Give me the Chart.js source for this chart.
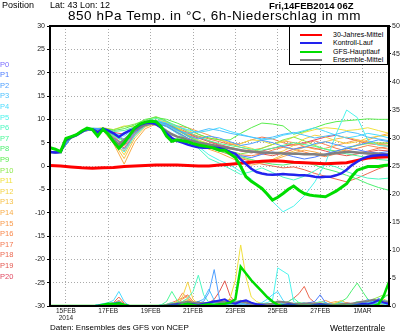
<!DOCTYPE html>
<html>
<head>
<meta charset="utf-8">
<script src="https://cdn.jsdelivr.net/npm/chart.js@4.4.1/dist/chart.umd.min.js"></script>
<style>
  html, body { margin: 0; padding: 0; background: #fff; }
  #wrap { position: relative; width: 400px; height: 333px; overflow: hidden; font-family: "Liberation Sans", Arial, sans-serif; }
  #chart { position: absolute; left: 0; top: 0; }
  .txt { position: absolute; white-space: nowrap; color: #000; line-height: 1; }
  #members .txt { font-size: 7.5px; }
  #legend { position: absolute; left: 289px; top: 26px; width: 99px; height: 39px; border: 1px solid #000; background: #fff; box-sizing: border-box; }
  #legend .row { position: absolute; left: 0; height: 8px; font-size: 7px; }
  #legend .ln { position: absolute; left: 10px; width: 22px; height: 2px; top: 3px; }
  #legend .lb { position: absolute; left: 43px; top: 0; white-space: nowrap; }
</style>
</head>
<body>
<div id="wrap">
  <canvas id="chart" width="400" height="333"></canvas>
  <div class="txt" style="left:2px;top:1px;font-size:9px;">Position</div>
  <div class="txt" style="left:50px;top:1px;font-size:9px;">Lat: 43 Lon: 12</div>
  <div class="txt" style="left:269px;top:1px;font-size:9.5px;font-weight:bold;">Fri,14FEB2014 06Z</div>
  <div class="txt" id="title" style="left:68px;top:9px;font-size:13.5px;letter-spacing:0.55px;">850 hPa Temp. in °C, 6h-Niederschlag in mm</div>
  <div class="txt" style="left:50px;top:324px;font-size:8px;">Daten: Ensembles des GFS von NCEP</div>
  <div class="txt" style="left:330px;top:324px;font-size:8.5px;">Wetterzentrale</div>
  <div id="members"></div>
  <div id="legend"></div>
</div>
<script>
// Zeitachse: Stunden ab 14FEB2014 06Z, Laeufe bis +384h
const dayTicks = [18, 66, 114, 162, 210, 258, 306, 354];
const dayLabels = [['15FEB', '2014'], '17FEB', '19FEB', '21FEB', '23FEB', '25FEB', '27FEB', '1MAR'];

// 850 hPa Temperatur, 6-stuendlich (65 Werte)
const gfsTemp = [3.9,3.6,3.1,5.9,6.3,6.7,7.5,8.1, 7.8,6.4,7.9,6.8,5.2,3.8,5.0,6.5, 8.2,9.0,9.4,9.6,9.5,8.4,6.4,5.3, 5.6,5.4,5.2,4.8,4.5,4.3,4.1,3.8, 3.4,3.4,2.6,1.8,-0.1,-2.3,-3.3,-4.0, -4.8,-6.0,-7.3,-6.7,-5.9,-5.0,-4.3,-5.2, -5.9,-6.2,-6.4,-6.5,-6.6,-6.0,-5.4,-4.6, -3.8,-2.2,-0.9,-0.5,-0.1,-0.1,-0.1,0.1, 0.2];
const ctrlTemp = [3.0,2.9,3.0,5.6,6.2,6.6,7.3,8.0, 7.9,7.2,8.0,7.6,7.0,6.2,7.0,7.6, 8.0,8.8,9.2,9.3,9.0,8.2,7.0,6.0, 5.4,5.0,4.6,4.3,4.0,3.9,3.9,3.9, 3.8,3.5,3.0,2.6,1.4,0.4,-0.6,-1.3, -1.6,-1.8,-1.9,-1.8,-1.7,-1.8,-1.9,-2.0, -2.0,-2.1,-2.3,-2.4,-2.3,-2.3,-2.0,-1.6, -0.8,0.2,0.9,1.6,2.0,2.2,2.3,2.4, 2.3];
const meanTemp = [3.0,2.9,3.0,5.5,6.1,6.6,7.3,8.0, 7.8,7.3,7.8,6.9,5.6,4.6,5.6,6.6, 7.6,8.3,8.8,9.1,8.9,8.3,7.5,6.8, 6.3,6.0,5.6,5.3,5.0,4.8,4.6,4.4, 4.2,4.0,3.8,3.6,3.4,3.2,3.1,3.0, 2.9,2.9,2.8,2.8,2.7,2.7,2.6,2.6, 2.5,2.5,2.5,2.4,2.4,2.6,2.8,2.9, 3.0,3.0,2.9,2.8,2.7,2.6,2.6,2.5, 2.5];
// 30-Jahres-Mittel, 12-stuendlich (33 Werte)
const climTemp = [0.1,0.0,-0.2,-0.4,-0.5,-0.4,-0.3,-0.1,0.0,0.1,0.2,0.2,0.2,0.1,0.0,0.0,0.2,0.4,0.6,0.8,1.0,1.1,1.0,0.8,0.7,0.6,0.5,0.6,0.7,1.2,1.7,1.9,2.0];

// Ensemble-Member P1..P20, 12-stuendlich (33 Werte)
const p1Temp  = [3.0,3.1,6.1,7.3,7.9,7.9, 6.0,4.5,7.2,8.8,9.2,8.5, 7.2,6.0,5.1,4.6,3.8,3.0, 2.2,1.8,2.5,3.0,2.6,2.0, 1.5,1.9,2.6,3.2,3.8,3.5, 3.0,2.8,3.1];
const p2Temp  = [3.0,3.0,6.3,7.4,8.0,7.8, 5.5,3.6,6.8,8.9,9.6,9.0, 7.8,6.5,5.8,6.4,6.0,5.2, 4.4,4.8,5.5,5.0,4.2,3.6, 4.0,4.8,5.2,4.6,4.0,4.4, 5.0,5.6,5.2];
const p3Temp  = [3.1,3.0,6.2,7.5,8.1,8.0, 6.8,5.8,7.6,9.0,9.4,8.8, 7.6,7.0,7.4,8.0,7.6,7.0, 6.6,6.2,5.8,6.2,6.8,7.2, 6.6,6.0,6.4,6.8,7.4,7.0, 6.2,5.8,5.4];
const p4Temp  = [3.0,3.1,6.0,7.3,7.9,7.9, 7.0,6.4,8.0,9.3,9.8,9.2, 8.4,7.8,7.2,7.6,8.2,7.4, 6.8,6.2,5.6,5.8,6.6,7.0, 7.6,8.2,7.4,6.6,6.0,6.4, 7.0,6.6,6.0];
const p5Temp  = [3.0,3.0,6.2,7.4,7.9,7.7, 5.2,3.0,6.4,8.6,9.2,8.4, 7.0,5.6,4.2,2.4,1.2,0.2, -1.2,-2.8,-5.0,-7.6,-9.8,-8.6, -6.4,-3.4,0.6,6.8,12.0,10.4, 5.5,4.4,4.2];
const p6Temp  = [3.0,3.0,6.2,7.3,7.9,7.8, 6.4,5.2,7.3,8.8,9.4,8.8, 7.4,6.0,3.8,1.6,0.6,-0.6, -1.8,-1.2,-0.4,-1.4,-2.4,-3.0, -2.2,-1.0,0.4,-0.2,-1.2,-2.0, -2.6,-2.8,-2.6];
const p7Temp  = [3.0,3.1,6.3,7.5,8.0,8.0, 7.4,7.6,8.4,9.6,10.2,9.6, 8.6,7.4,6.2,5.4,4.8,4.4, 4.0,3.6,3.4,3.8,4.4,5.0, 4.6,4.2,3.6,3.0,2.6,2.2, 1.8,1.4,1.2];
const p8Temp  = [3.0,3.0,6.1,7.4,7.9,7.9, 6.6,5.4,7.6,9.0,9.6,9.0, 7.8,6.4,5.2,4.0,3.2,2.6, 2.0,1.4,0.8,0.4,0.2,0.6, 0.8,0.2,-0.6,-1.2,-2.0,-2.8, -3.8,-4.6,-5.2];
const p9Temp  = [3.1,3.1,6.2,7.4,8.0,8.1, 7.6,8.0,8.8,10.0,10.4,10.0, 9.2,8.2,6.8,6.0,5.6,5.6, 7.0,8.2,9.2,9.0,8.6,6.8, 7.4,8.2,9.0,9.5,9.7,9.9, 10.1,10.0,10.0];
const p10Temp = [3.0,3.0,6.3,7.5,8.1,8.0, 7.8,8.4,9.0,9.8,10.6,9.6, 8.0,6.6,5.4,4.6,4.2,3.2, 2.6,3.0,3.8,4.6,5.6,6.2, 5.4,4.4,3.6,3.2,3.8,4.4, 4.8,5.0,4.8];
const p11Temp = [3.0,3.1,6.1,7.4,7.9,8.2, 7.8,8.6,8.4,9.4,9.8,9.4, 8.2,6.8,5.6,4.8,4.2,3.6, 4.8,5.6,5.4,4.6,5.2,6.2, 7.2,7.8,8.2,8.0,7.6,7.8, 8.2,7.6,7.0];
const p12Temp = [3.0,3.0,6.2,7.3,7.8,7.6, 5.8,2.4,6.6,8.8,9.6,9.2, 8.4,7.6,6.8,6.0,5.6,5.0, 4.4,3.8,3.0,2.6,3.2,4.4, 5.8,6.6,6.2,5.4,4.8,5.2, 6.0,6.4,6.6];
const p13Temp = [3.0,3.1,6.3,7.4,7.9,7.7, 5.0,1.6,6.0,8.4,9.2,8.8, 7.6,6.4,5.0,4.4,3.6,2.4, 1.8,1.2,0.8,1.4,2.4,3.2, 4.0,4.6,5.2,5.8,6.2,5.6, 5.0,4.6,4.4];
const p14Temp = [3.0,3.0,6.2,7.4,7.9,7.6, 4.8,0.4,5.2,8.0,9.0,8.6, 7.2,5.8,4.6,3.6,2.8,1.8, 0.8,0.2,0.6,1.2,2.0,2.8, 3.4,3.0,2.4,2.8,3.6,4.6, 5.6,6.4,7.0];
const p15Temp = [3.0,3.0,6.1,7.3,7.9,7.8, 6.2,3.2,6.8,8.6,9.4,9.2, 8.6,8.2,7.4,6.6,5.6,4.8, 4.0,3.4,3.8,4.6,5.4,5.0, 4.2,3.6,3.8,4.4,5.0,5.6, 5.2,4.8,5.0];
const p16Temp = [3.0,3.1,6.2,7.4,7.9,7.9, 6.6,4.2,7.0,8.8,9.4,8.6, 7.0,5.6,4.8,4.2,3.6,3.0, 2.4,2.2,2.6,3.4,4.0,3.6, 3.0,2.4,2.0,2.6,3.2,3.8, 4.4,4.0,3.6];
const p17Temp = [3.0,3.0,6.3,7.5,8.0,7.9, 6.0,4.8,7.4,9.2,9.8,9.4, 8.2,7.2,6.4,5.8,5.2,4.6, 4.8,5.6,6.2,5.8,5.0,4.4, 4.8,5.4,4.6,3.8,3.2,2.8, 3.2,3.8,4.2];
const p18Temp = [3.0,3.0,6.2,7.4,7.9,7.8, 6.4,3.8,6.8,8.6,9.4,9.0, 7.8,6.4,5.2,4.0,3.2,2.4, 1.6,1.0,0.4,0.0,-0.4,-0.2, -0.8,-1.6,-2.2,-2.8,-3.4,-2.6, -1.6,-0.6,0.2];
const p19Temp = [3.0,3.1,6.2,7.3,7.8,7.8, 6.8,5.6,7.8,9.2,9.6,9.0, 8.0,7.0,6.2,5.4,4.6,4.0, 3.4,3.0,2.6,2.2,2.8,3.6, 4.2,3.8,3.2,2.6,2.2,2.6, 3.0,3.4,3.2];
const p20Temp = [3.0,3.0,6.1,7.4,7.9,7.9, 7.2,6.8,8.2,9.4,9.8,9.2, 8.0,6.8,6.0,5.2,4.4,3.8, 3.2,2.8,3.2,3.8,4.2,4.6, 5.0,5.6,6.2,6.6,6.0,5.4, 4.8,4.6,4.4];

// 6h-Niederschlag in mm, 6-stuendlich (65 Werte)
const gfsRain  = [0,0,0,0,0,0,0,0, 0,0,0.2,0.4,0.3,0.5,0.2,0, 0,0,0,0,0,0,0,0, 0,0.2,0.4,0.2,0,0.2,0.3,0.2, 0.3,0.4,0.6,1.2,7.0,5.8,4.6,3.6, 2.6,1.6,0.8,0.2,0,0,0,0, 0,0,0,0,0,0,0,0, 0,0,0,0,0,0,0.3,1.8, 4.3];
const ctrlRain = [0,0,0,0,0,0,0,0, 0,0,0.2,0.3,0.4,0.5,0.2,0, 0,0,0,0,0,0,0,0.2, 0.3,0.2,0.4,0.3,0.2,0.4,0.6,0.8, 1.0,1.2,0.6,0.4,0.8,1.0,0.6,0.3, 0.2,0,0,0,0.2,0.3,0.2,0, 0,0,0.2,0.3,0.2,0,0,0, 0,0,0.2,0.4,0.3,0.6,1.0,0.6, 0.4];
const meanRain = [0,0,0,0,0,0,0,0, 0,0,0.1,0.2,0.3,0.4,0.2,0, 0,0,0,0,0,0,0.2,0.3, 0.4,0.6,0.8,0.6,0.6,0.5,0.6,0.8, 0.7,0.8,0.7,0.6,0.9,0.6,0.4,0.3, 0.3,0.3,0.4,0.8,0.7,0.6,0.4,0.3, 0.4,0.4,0.4,0.4,0.3,0.2,0.2,0.3, 0.4,0.4,0.6,0.8,0.9,1.1,1.0,0.8, 0.6];
const p1Rain  = [0,0,0,0,0,0,0,0, 0,0.2,0.3,0,0.4,0.6,0.2,0, 0,0,0,0,0,0,0,0.3, 0.5,0.2,0,0.4,0.8,0.3,0.6,1.0, 0.4,0.2,0.6,0.3,0,0.2,0.5,0.2, 0,0,0.3,0.2,0,0,0,0.2, 0.4,0.6,0.8,2.0,0.6,0.2,0,0, 0,0.2,0.4,0.8,0.5,0.3,1.4,0.8, 0.4];
const p2Rain  = [0,0,0,0,0,0,0,0, 0,0,0.2,0.3,0.5,0.8,0.3,0, 0,0,0,0,0,0,0.2,0.4, 0.3,0.6,0.4,0.2,0.5,0.8,2.4,6.5, 1.2,0.4,0.2,0,0.3,0.6,0.2,0, 0,0.2,0.4,0.8,0.3,0,0,0, 0.2,0.5,0.3,0,0.2,0.4,0.2,0, 0,0,0.3,0.6,1.2,0.5,0.3,0.6, 0.2];
const p3Rain  = [0,0,0,0,0,0,0,0, 0,0,0,0.2,0.4,0.6,0.2,0, 0,0,0,0,0,0.2,0,0, 0.2,0.4,0.6,0.3,0.8,1.2,3.0,1.0, 0.3,0.2,0.5,0.8,0.4,0.2,0,0, 0.2,0.3,0.5,0.2,0,0,0.2,0.4, 0.6,0.3,0,0,0.2,0.3,0,0, 0,0.2,0.5,0.3,0.6,0.8,1.2,1.0, 0.8];
const p4Rain  = [0,0,0,0,0,0,0,0, 0,0.2,0.4,0.6,1.0,2.6,0.8,0, 0,0,0,0,0,0,0,0.2, 0.4,0.2,0,0.3,0.6,0.4,0.2,0.5, 0.8,0.4,0.2,0,0,0.2,0.4,0.3, 0.6,1.2,2.0,2.6,1.0,0.3,0,0, 0,0.2,0.4,0.2,0,0,0.3,0.6, 0.4,0.2,0,0,0.2,0.4,0.6,0.3, 0.2];
const p5Rain  = [0,0,0,0,0,0,0,0, 0,0,0.2,0.3,0.4,0.5,0.3,0, 0,0,0,0,0,0,0,0, 0,0.2,0.4,0.3,0.6,0.5,0.2,0, 0.2,0.4,0.6,0.8,1.0,0.6,0.3,0.2, 0.4,0.6,1.0,6.8,6.2,5.6,0.8,0.2, 0,0,0.2,0.3,0.2,0,0,0, 0,0,0.2,0.4,0.2,0,0.3,0.5, 0.4];
const p6Rain  = [0,0,0,0,0,0,0,0, 0,0,0,0.2,0.3,0.4,0.2,0, 0,0,0,0,0,0,0.3,0.6, 0.4,0.8,1.4,2.6,5.5,2.0,0.6,0.3, 0.2,0,0.3,0.6,0.4,0.2,0,0, 0.2,0.4,0.3,0.6,0.8,0.4,0.2,0, 0,0.3,0.5,0.8,0.6,0.3,0,0, 0,0.2,0.4,0.6,0.3,0.2,0.6,0.8, 0.5];
const p7Rain  = [0,0,0,0,0,0,0,0, 0,0.2,0.3,0.4,0.6,0.5,0.2,0, 0,0,0,0,0,0.2,0.8,2.6, 1.0,0.3,0.2,0,0.3,0.5,0.2,0, 0,0.2,0.4,0.2,0,0,0.3,0.5, 0.3,0,0,0.2,0.4,0.8,1.4,0.6, 0.2,0,0,0.3,0.5,0.2,0,0, 0.2,0.4,0.8,0.6,0.3,0.2,0.4,0.6, 0.3];
const p8Rain  = [0,0,0,0,0,0,0,0, 0,0.2,0.4,0.5,0.3,0.4,0.2,0, 0,0,0,0,0,0,0,0.3, 0.6,0.4,0.2,0.3,0.2,0.4,0.6,0.3, 0.2,0.5,0.8,0.4,0.2,0,0.2,0.3, 0.2,0,0,0,0.2,0.3,0.4,0.6, 0.4,0.2,0,0,0,0.2,0.4,0.8, 1.4,2.8,4.1,2.6,1.2,0.6,0.8,1.4, 2.2];
const p9Rain  = [0,0,0,0,0,0,0,0, 0,0,0.2,0.4,0.3,0.6,0.3,0, 0,0,0,0,0,0,0.2,0.4, 0.3,0.2,0.4,0.6,0.3,0.2,0.4,0.5, 0.3,0.2,0,0.4,0.6,0.3,0.2,0.2, 0.4,0.3,0.2,0,0,0.2,0.3,0.2, 0,0.2,0.4,0.3,0.2,0,0,0.2, 0.4,0.3,0.2,0.4,0.6,0.8,0.5,0.3, 0.4];
const p10Rain = [0,0,0,0,0,0,0,0, 0,0,0,0.2,0.4,0.3,0.2,0, 0,0,0,0,0,0,0,0.2, 0.4,0.3,0.2,0.5,0.8,0.4,0.2,0, 0,0.3,0.5,0.3,0.2,0,0,0.2, 0.3,0.2,0.4,0.6,0.3,0.2,0,0, 0.2,0.4,0.3,0,0,0.2,0.3,0.2, 0,0.2,0.3,0.5,0.8,1.2,1.6,2.0, 1.8];
const p11Rain = [0,0,0,0,0,0,0,0, 0,0,0.2,0.3,0.2,0.4,0.2,0, 0,0,0,0,0,0,0,0.2, 0.3,0.5,1.0,0.6,0.4,0.3,0.2,0.3, 0.4,0.6,1.4,4.6,10.9,5.2,1.6,0.8, 0.4,0.2,0,0.2,0.3,0.2,0,0, 0,0.2,0.4,0.6,0.3,0.2,0,0, 0.2,0.3,0.5,0.4,0.2,0.3,0.6,0.8, 0.5];
const p12Rain = [0,0,0,0,0,0,0,0, 0,0,0.2,0.3,0.4,0.6,0.3,0, 0,0,0,0,0,0,0.2,0.3, 0.8,1.6,4.3,1.2,0.4,0.2,0.3,0.5, 0.3,0.2,0.6,0.8,1.0,0.6,0.3,0.2, 0,0.2,0.3,0.2,0,0,0.2,0.4, 0.6,0.4,0.2,0,0,0.3,0.5,0.2, 0,0.2,0.4,0.3,0.2,0.4,0.6,0.4, 0.3];
const p13Rain = [0,0,0,0,0,0,0,0, 0,0,0,0.2,0.5,0.8,0.4,0, 0,0,0,0,0,0,0,0, 0.2,0.4,0.8,0.6,0.3,0.2,0,0.3, 0.5,0.4,0.2,0.6,0.8,1.0,0.4,0.2, 0,0.2,0.4,0.3,0.2,0,0,0, 0.2,0.3,0.4,0.2,0,0.2,0.6,1.0, 0.5,0.2,0,0.2,0.3,0.6,1.0,1.2, 0.8];
const p14Rain = [0,0,0,0,0,0,0,0, 0,0,0.2,0.4,0.6,0.8,0.3,0, 0,0,0,0,0,0,0,0.2, 0.4,0.8,1.2,0.6,0.3,0.2,0.4,0.3, 0.2,0.6,1.0,0.8,0.4,0.2,0,0, 0.2,0.3,0.2,0,0,0.2,0.4,0.6, 0.3,0.2,0,0,0.3,0.6,0.8,0.4, 0.2,0,0.2,0.4,0.6,0.3,0.2,0.4, 0.6];
const p15Rain = [0,0,0,0,0,0,0,0, 0,0,0,0.2,0.3,0.5,0.2,0, 0,0,0,0,0,0,0.2,0.4, 0.6,1.2,1.8,0.8,0.4,0.3,0.2,0, 0.2,0.4,0.3,0.2,0.5,0.8,0.4,0.2, 0,0,0.2,0.4,0.3,0.2,0,0, 0,0.2,0.4,0.6,1.0,0.6,0.3,0.2, 0,0.2,0.3,0.2,0.4,0.6,0.4,0.3, 0.2];
const p16Rain = [0,0,0,0,0,0,0,0, 0,0,0.2,0.3,0.4,0.6,0.3,0, 0,0,0,0,0,0,0,0.3, 0.8,2.3,1.4,0.6,0.3,0.2,0.4,0.6, 0.8,0.4,0.2,0,0.2,0.3,0.5,0.3, 0.2,0,0,0.2,0.4,0.3,0.2,0, 0,0.3,0.6,0.4,0.2,0,0,0.3, 0.5,0.3,0.2,0.4,0.6,0.4,0.2,0.3, 0.4];
const p17Rain = [0,0,0,0,0,0,0,0, 0,0,0.2,0.3,0.5,1.0,0.4,0, 0,0,0,0,0,0,0.3,0.6, 1.0,1.4,2.0,0.8,0.4,0.2,0.3,0.5, 0.6,0.3,0.2,0.4,0.3,0.2,0,0, 0,0.2,0.3,0.4,0.2,0,0,0.2, 0.4,0.6,0.4,0.2,0,0,0.2,0.4, 0.6,0.4,0.2,0,0.2,0.4,0.6,0.5, 0.3];
const p18Rain = [0,0,0,0,0,0,0,0, 0,0,0.2,0.4,0.6,1.6,0.5,0, 0,0,0,0,0,0,0,0.2, 0.4,0.6,0.3,0.2,0.4,0.6,0.3,0.2, 0.4,0.8,1.2,0.6,0.3,0.2,0.4,0.3, 0.2,0,0.2,0.3,0.5,0.8,1.4,2.2, 3.5,1.4,0.6,0.3,0.2,0,0,0.2, 0.3,0.5,0.4,0.2,0,0.2,0.4,0.3, 0.2];
const p19Rain = [0,0,0,0,0,0,0,0, 0,0,0,0.2,0.4,0.6,0.3,0, 0,0,0,0,0,0,0.2,0.3, 0.6,0.8,0.4,0.3,0.2,0.4,0.6,1.2, 2.6,4.5,1.8,0.6,0.3,0.2,0,0, 0,0.2,0.3,0.2,0,0,0.2,0.4, 0.3,0.2,0,0,0.2,0.4,0.3,0.2, 0,0.2,0.4,0.6,0.3,0.2,0.3,0.5, 0.4];
const p20Rain = [0,0,0,0,0,0,0,0, 0,0,0.2,0.2,0.3,0.5,0.2,0, 0,0,0,0,0,0,0,0.2, 0.3,0.5,0.8,0.4,0.2,0.3,0.5,0.4, 0.2,0.4,0.6,0.3,0.2,0,0.2,0.4, 0.3,0.2,0,0,0.2,0.4,0.3,0.2, 0,0.2,0.3,0.5,0.3,0.2,0,0, 0.2,0.3,0.2,0.4,0.6,0.3,0.2,0.4, 0.3];

const memberTemps = [p1Temp, p2Temp, p3Temp, p4Temp, p5Temp, p6Temp, p7Temp, p8Temp, p9Temp, p10Temp,
                     p11Temp, p12Temp, p13Temp, p14Temp, p15Temp, p16Temp, p17Temp, p18Temp, p19Temp, p20Temp];
const memberRains = [p1Rain, p2Rain, p3Rain, p4Rain, p5Rain, p6Rain, p7Rain, p8Rain, p9Rain, p10Rain,
                     p11Rain, p12Rain, p13Rain, p14Rain, p15Rain, p16Rain, p17Rain, p18Rain, p19Rain, p20Rain];
// Farben P0..P20
const memberColors = ['#7a6cff', '#4c7cff', '#4c9eff', '#4cc0ff', '#4cdcff', '#4cf4ec', '#4cf8c0', '#4cf898', '#4cf070', '#58ec4c', '#8ce84c',
                      '#f0e040', '#f4d244', '#f6c048', '#f8ac48', '#f89a4c', '#f8884c', '#f47850', '#ec6850', '#e45850', '#e04860'];

const toPoints = (vals, step) => vals.map((v, i) => ({ x: i * step, y: v }));

const datasets = [];
// Hauptlinien zuerst (order bestimmt die Zeichenreihenfolge)
datasets.push({ label: 'GFS-Hauptlauf', data: toPoints(gfsTemp, 6), borderColor: '#00dd00', borderWidth: 3, order: 0 });
datasets.push({ label: 'Kontroll-Lauf', data: toPoints(ctrlTemp, 6), borderColor: '#2222ee', borderWidth: 2.5, order: 1 });
datasets.push({ label: 'Ensemble-Mittel', data: toPoints(meanTemp, 6), borderColor: '#808080', borderWidth: 2.5, order: 2 });
datasets.push({ label: '30-Jahres-Mittel', data: toPoints(climTemp, 12), borderColor: '#ff0000', borderWidth: 3, order: 3 });
datasets.push({ label: 'GFS-Niederschlag', data: toPoints(gfsRain, 6), borderColor: '#00dd00', borderWidth: 2.5, yAxisID: 'yRain', order: 0 });
datasets.push({ label: 'Kontroll-Niederschlag', data: toPoints(ctrlRain, 6), borderColor: '#2222ee', borderWidth: 2, yAxisID: 'yRain', order: 1 });
datasets.push({ label: 'Mittel-Niederschlag', data: toPoints(meanRain, 6), borderColor: '#808080', borderWidth: 2, yAxisID: 'yRain', order: 2 });

memberTemps.forEach((vals, i) => {
    datasets.push({ label: 'P' + (i + 1), data: toPoints(vals, 12), borderColor: memberColors[i + 1], borderWidth: 1, order: 10 });
});
memberRains.forEach((vals, i) => {
    datasets.push({ label: 'P' + (i + 1) + ' RR', data: toPoints(vals, 6), borderColor: memberColors[i + 1], borderWidth: 1, yAxisID: 'yRain', order: 10 });
});

// Rahmen um den Plotbereich
const framePlugin = {
    id: 'frame',
    afterDatasetsDraw(chart) {
        const { ctx, chartArea: a } = chart;
        ctx.save();
        ctx.strokeStyle = '#000';
        ctx.lineWidth = 2;
        ctx.strokeRect(a.left, a.top, a.right - a.left, a.bottom - a.top);
        ctx.restore();
    }
};

Chart.defaults.font.family = '"Liberation Sans", Arial, sans-serif';

new Chart(document.getElementById('chart'), {
    type: 'line',
    data: { datasets: datasets },
    options: {
        responsive: false,
        animation: false,
        events: [],
        layout: { padding: { top: 26, left: 0, right: 0, bottom: 0 } },
        elements: { point: { radius: 0 }, line: { tension: 0 } },
        plugins: { legend: { display: false }, tooltip: { enabled: false } },
        scales: {
            x: {
                type: 'linear', min: 0, max: 384,
                afterBuildTicks: s => { s.ticks = dayTicks.map(v => ({ value: v })); },
                afterFit: s => { s.height = 27; },
                ticks: {
                    color: '#222', font: { size: 6.5, lineHeight: 1.05 }, padding: 2, maxRotation: 0, autoSkip: false,
                    callback: v => dayLabels[dayTicks.indexOf(v)]
                },
                grid: { color: '#aaa', lineWidth: 1, drawTicks: false },
                border: { display: false, dash: [1, 2] }
            },
            y: {
                min: -30, max: 30,
                afterFit: s => { s.width = 50; },
                ticks: { stepSize: 5, color: '#222', font: { size: 7 }, padding: 2 },
                grid: { color: '#aaa', lineWidth: 1, tickLength: 3, tickColor: '#000', tickBorderDash: [] },
                border: { display: false, dash: [1, 2] }
            },
            yRain: {
                position: 'right', min: 0, max: 50,
                afterFit: s => { s.width = 11; },
                ticks: { stepSize: 5, color: '#222', font: { size: 7 }, padding: 1 },
                grid: { drawOnChartArea: false, tickLength: 2, tickColor: '#000' },
                border: { display: false }
            }
        }
    },
    plugins: [framePlugin]
});

// Memberliste links
const memberBox = document.getElementById('members');
memberColors.forEach((c, i) => {
    const d = document.createElement('div');
    d.className = 'txt';
    d.style.left = '0px';
    d.style.top = (60.5 + i * 10.6) + 'px';
    d.style.color = c;
    d.textContent = 'P' + i;
    memberBox.appendChild(d);
});

// Legende
const legendItems = [['30-Jahres-Mittel', '#ff0000'], ['Kontroll-Lauf', '#2222ee'], ['GFS-Hauptlauf', '#00dd00'], ['Ensemble-Mittel', '#808080']];
const legendBox = document.getElementById('legend');
legendItems.forEach(([name, color], i) => {
    const row = document.createElement('div');
    row.className = 'row';
    row.style.top = (4 + i * 8.3) + 'px';
    row.innerHTML = '<div class="ln" style="background:' + color + '"></div><div class="lb">' + name + '</div>';
    legendBox.appendChild(row);
});
</script>
</body>
</html>
